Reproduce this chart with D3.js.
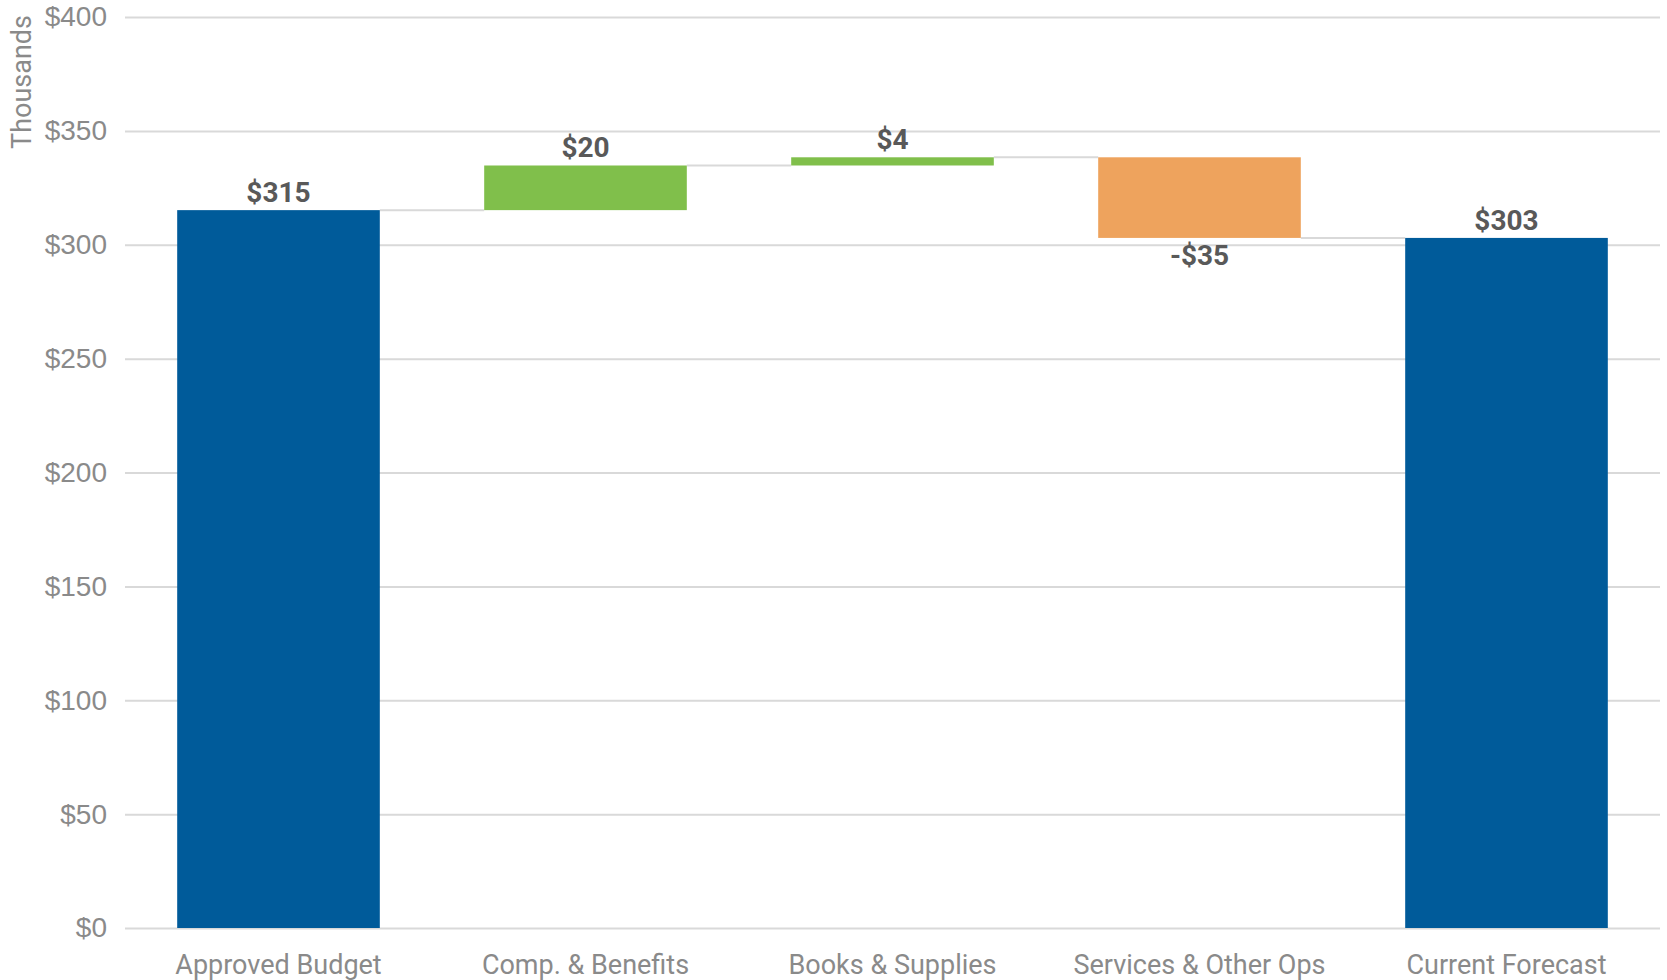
<!DOCTYPE html>
<html>
<head>
<meta charset="utf-8">
<script src="https://cdn.jsdelivr.net/npm/d3@7"></script>
<style>
  body { margin: 0; background: #fff; }
  svg { font-family: Roboto, "Liberation Sans", sans-serif; }
</style>
</head>
<body>
<div id="chart"></div>
<script>
// 类别
const categories = ['Approved Budget', 'Comp. & Benefits', 'Books & Supplies', 'Services & Other Ops', 'Current Forecast']
// 每一步的数值（千元），第一项和最后一项是合计
const values = [315.2, 19.6, 3.6, -35.4, 303.0]
const kinds = ['total', 'delta', 'delta', 'delta', 'total']
// 纵轴刻度
const yTicks = [0, 50, 100, 150, 200, 250, 300, 350, 400]

const width = 1667
const height = 980
const margin = { top: 17, right: 7, bottom: 52, left: 125 }

const colors = {
  total: '#005b9a',
  up: '#80bf4b',
  down: '#eea35d',
  grid: '#d9d9d9',
  tick: '#8a8a8a',
  label: '#595959'
}

// 计算瀑布每个柱子的起止
let running = 0
const bars = categories.map((c, i) => {
  let y0, y1
  if (kinds[i] === 'total') {
    y0 = 0
    y1 = values[i]
    running = values[i]
  } else {
    y0 = running
    y1 = running + values[i]
    running = y1
  }
  return { cat: c, value: values[i], kind: kinds[i], y0, y1 }
})

const svg = d3.select('#chart').append('svg')
  .attr('width', width)
  .attr('height', height)

const x = d3.scaleBand()
  .domain(categories)
  .range([margin.left, width - margin.right])
  .paddingInner(0.34)
  .paddingOuter(0.17)

const y = d3.scaleLinear()
  .domain([0, 400])
  .range([height - margin.bottom, margin.top])

// 网格线 + 刻度文字
const yAxis = svg.append('g')
  .attr('transform', `translate(${margin.left},0)`)
  .call(d3.axisLeft(y)
    .tickValues(yTicks)
    .tickSize(-(width - margin.left - margin.right))
    .tickPadding(18)
    .tickFormat(d => '$' + d))
yAxis.select('.domain').remove()
yAxis.selectAll('.tick line')
  .attr('stroke', colors.grid)
  .attr('stroke-width', 2)
yAxis.selectAll('.tick text')
  .attr('fill', colors.tick)
  .style('font-size', '28px')

// 纵轴标题
svg.append('text')
  .attr('transform', `translate(31, 82) rotate(-90)`)
  .attr('text-anchor', 'middle')
  .attr('fill', colors.tick)
  .style('font-size', '27px')
  .text('Thousands')

// 连接线
const links = bars.slice(0, -1).map((b, i) => ({ from: b.cat, to: bars[i + 1].cat, v: b.y1 }))
svg.append('g')
  .selectAll('line')
  .data(links)
  .join('line')
  .attr('x1', d => x(d.from) + x.bandwidth())
  .attr('x2', d => x(d.to))
  .attr('y1', d => y(d.v))
  .attr('y2', d => y(d.v))
  .attr('stroke', colors.grid)
  .attr('stroke-width', 2)

// 柱子
svg.append('g')
  .selectAll('rect')
  .data(bars)
  .join('rect')
  .attr('x', d => x(d.cat))
  .attr('width', x.bandwidth())
  .attr('y', d => y(Math.max(d.y0, d.y1)))
  .attr('height', d => Math.abs(y(d.y0) - y(d.y1)))
  .attr('fill', d => {
    if (d.kind === 'total') return colors.total
    return d.value >= 0 ? colors.up : colors.down
  })

// 数据标签
const fmt = v => (v < 0 ? '-$' : '$') + Math.round(Math.abs(v))
svg.append('g')
  .selectAll('text')
  .data(bars)
  .join('text')
  .attr('x', d => x(d.cat) + x.bandwidth() / 2)
  .attr('y', d => {
    if (d.value < 0) return y(Math.min(d.y0, d.y1)) + 27
    return y(Math.max(d.y0, d.y1)) - 8
  })
  .attr('text-anchor', 'middle')
  .attr('fill', colors.label)
  .style('font-size', '28px')
  .style('font-weight', 'bold')
  .text(d => fmt(d.value))

// 类别标签
svg.append('g')
  .selectAll('text')
  .data(categories)
  .join('text')
  .attr('x', d => x(d) + x.bandwidth() / 2)
  .attr('y', height - 6)
  .attr('text-anchor', 'middle')
  .attr('fill', colors.tick)
  .style('font-size', '27px')
  .text(d => d)
</script>
</body>
</html>
